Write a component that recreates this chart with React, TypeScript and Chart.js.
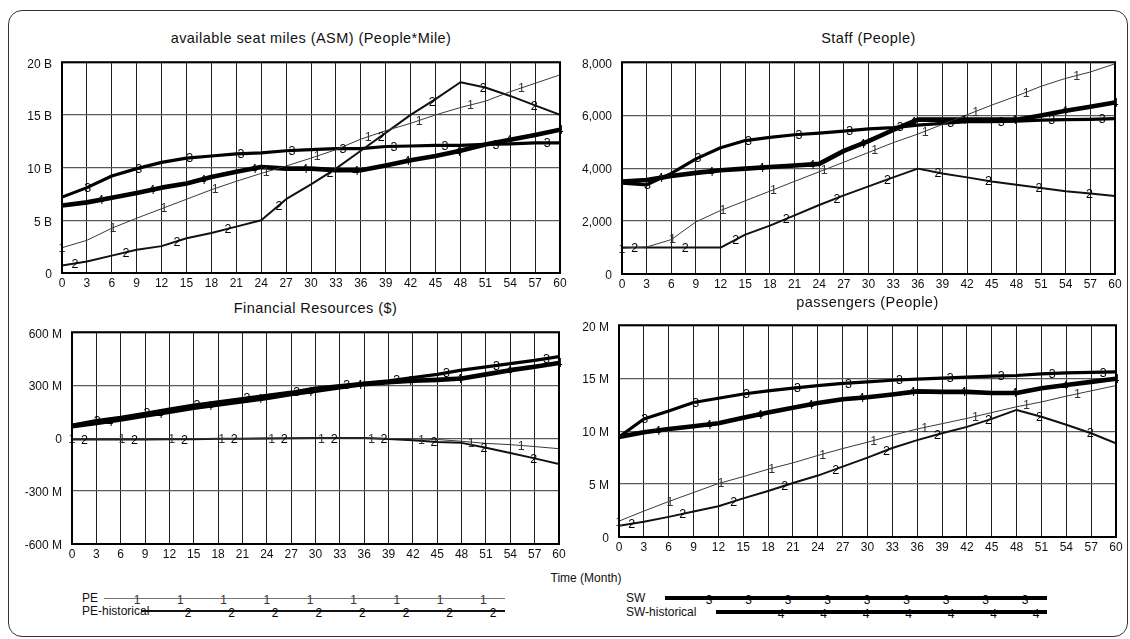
import React, { useEffect, useRef } from "react";
import { Chart, registerables } from "chart.js";

Chart.register(...registerables);

const FONT = '"Liberation Sans", Arial, Helvetica, sans-serif';

// ---------- data ----------
const MONTHS = [0, 3, 6, 9, 12, 15, 18, 21, 24, 27, 30, 33, 36, 39, 42, 45, 48, 51, 54, 57, 60];

const SERIES_NAMES = ["PE", "PE-historical", "SW", "SW-historical"];
const SERIES_DIGITS = ["1", "2", "3", "4"];

// available seat miles (billions of People*Mile)
const ASM_PE = [2.4, 3.1, 4.25, 5.2, 6.1, 7.0, 7.9, 8.7, 9.45, 10.15, 10.9, 11.7, 12.7, 13.5, 14.2, 15.0, 15.7, 16.3, 17.2, 18.0, 18.8];
const ASM_PE_HIST = [0.7, 1.1, 1.65, 2.2, 2.55, 3.3, 3.8, 4.4, 5.0, 7.0, 8.4, 9.9, 11.6, 13.3, 15.0, 16.5, 18.1, 17.6, 16.8, 15.9, 15.0];
const ASM_SW = [7.2, 8.1, 9.2, 9.9, 10.5, 10.9, 11.1, 11.3, 11.4, 11.6, 11.7, 11.8, 11.8, 12.0, 12.05, 12.1, 12.1, 12.2, 12.25, 12.35, 12.35];
const ASM_SW_HIST = [6.4, 6.7, 7.15, 7.6, 8.1, 8.5, 9.1, 9.6, 10.05, 9.9, 9.9, 9.75, 9.75, 10.2, 10.7, 11.1, 11.6, 12.2, 12.65, 13.1, 13.6];
const ASM_Y_TICKS = [0, 5, 10, 15, 20];
const ASM_Y_LABELS = ["0", "5 B", "10 B", "15 B", "20 B"];

// staff (People)
const STAFF_PE = [975, 1020, 1300, 1970, 2400, 2765, 3130, 3500, 3860, 4225, 4590, 4960, 5285, 5650, 6015, 6380, 6720, 7090, 7390, 7630, 7940];
const STAFF_PE_HIST = [1000, 1000, 1000, 1000, 1000, 1485, 1825, 2215, 2605, 2970, 3310, 3650, 3980, 3800, 3650, 3495, 3370, 3250, 3130, 3040, 2950];
const STAFF_SW = [3430, 3370, 3800, 4350, 4770, 5040, 5160, 5260, 5320, 5400, 5480, 5530, 5620, 5690, 5750, 5750, 5770, 5810, 5830, 5840, 5870];
const STAFF_SW_HIST = [3490, 3550, 3700, 3820, 3920, 3980, 4040, 4100, 4160, 4650, 5020, 5440, 5830, 5830, 5830, 5830, 5830, 5990, 6170, 6320, 6480];
const STAFF_Y_TICKS = [0, 2000, 4000, 6000, 8000];
const STAFF_Y_LABELS = ["0", "2,000", "4,000", "6,000", "8,000"];

// financial resources (millions of $)
const FIN_PE = [-5, -5, -5, -5, -5, -4, -3, -2, 0, 0, 0, 0, 0, -2, -4, -8, -18, -30, -37, -48, -60];
const FIN_PE_HIST = [-8, -8, -8, -8, -7, -6, -4, -3, -2, -1, 0, 0, 0, -5, -12, -22, -27, -55, -84, -115, -147];
const FIN_SW = [73, 99, 117, 141, 165, 187, 205, 224, 242, 260, 283, 297, 312, 325, 343, 361, 385, 404, 422, 440, 462];
const FIN_SW_HIST = [68, 86, 105, 128, 150, 172, 191, 209, 228, 250, 268, 288, 306, 316, 325, 330, 338, 361, 385, 404, 426];
const FIN_Y_TICKS = [-600, -300, 0, 300, 600];
const FIN_Y_LABELS = ["-600 M", "-300 M", "0", "300 M", "600 M"];

// passengers (millions of People)
const PAX_PE = [1.5, 2.45, 3.35, 4.2, 5.05, 5.7, 6.4, 7.0, 7.7, 8.35, 8.95, 9.6, 10.2, 10.7, 11.2, 11.75, 12.3, 12.75, 13.3, 13.8, 14.3];
const PAX_PE_HIST = [1.07, 1.45, 1.9, 2.4, 2.9, 3.65, 4.35, 5.1, 5.8, 6.65, 7.5, 8.4, 9.15, 9.8, 10.4, 11.15, 12.0, 11.35, 10.6, 9.8, 8.85];
const PAX_SW = [9.45, 11.15, 11.9, 12.7, 13.1, 13.5, 13.8, 14.05, 14.3, 14.5, 14.65, 14.8, 14.9, 15.0, 15.1, 15.2, 15.25, 15.4, 15.5, 15.55, 15.6];
const PAX_SW_HIST = [9.45, 9.9, 10.2, 10.45, 10.75, 11.25, 11.75, 12.2, 12.65, 13.0, 13.2, 13.45, 13.75, 13.7, 13.7, 13.6, 13.6, 14.05, 14.35, 14.65, 14.95];
const PAX_Y_TICKS = [0, 5, 10, 15, 20];
const PAX_Y_LABELS = ["0", "5 M", "10 M", "15 M", "20 M"];

const X_AXIS_TITLE = "Time (Month)";

// ---------- styles ----------
const LINE_STYLES = [
  { color: "#3a3a3a", width: 1 },
  { color: "#111111", width: 2 },
  { color: "#000000", width: 3.2 },
  { color: "#000000", width: 4.6 },
];

// marker spacing (months) along lines, as Vensim numbers them
const MARKER_FIRST_OFFSET = 1.55;
const MARKER_STEP = 6.15;
const MARKER_COUNT = 10;

type Panel = {
  title: string;
  series: number[][];
  yTicks: number[];
  yLabels: string[];
  canvas: { left: number; top: number; width: number; height: number };
  yAxisWidth: number;
  padRight: number;
  xAxisHeight: number;
  titleY: number;
};

const PANELS: Panel[] = [
  {
    title: "available seat miles (ASM) (People*Mile)",
    series: [ASM_PE, ASM_PE_HIST, ASM_SW, ASM_SW_HIST],
    yTicks: ASM_Y_TICKS,
    yLabels: ASM_Y_LABELS,
    canvas: { left: 0, top: 45, width: 575, height: 250 },
    yAxisWidth: 62,
    padRight: 15,
    xAxisHeight: 22,
    titleY: 38,
  },
  {
    title: "Staff (People)",
    series: [STAFF_PE, STAFF_PE_HIST, STAFF_SW, STAFF_SW_HIST],
    yTicks: STAFF_Y_TICKS,
    yLabels: STAFF_Y_LABELS,
    canvas: { left: 565, top: 45, width: 565, height: 250 },
    yAxisWidth: 57,
    padRight: 15,
    xAxisHeight: 21,
    titleY: 38,
  },
  {
    title: "Financial Resources ($)",
    series: [FIN_PE, FIN_PE_HIST, FIN_SW, FIN_SW_HIST],
    yTicks: FIN_Y_TICKS,
    yLabels: FIN_Y_LABELS,
    canvas: { left: 0, top: 315, width: 575, height: 250 },
    yAxisWidth: 72,
    padRight: 16,
    xAxisHeight: 21,
    titleY: 308,
  },
  {
    title: "passengers (People)",
    series: [PAX_PE, PAX_PE_HIST, PAX_SW, PAX_SW_HIST],
    yTicks: PAX_Y_TICKS,
    yLabels: PAX_Y_LABELS,
    canvas: { left: 565, top: 308, width: 565, height: 250 },
    yAxisWidth: 54,
    padRight: 14,
    xAxisHeight: 21,
    titleY: 302,
  },
];

function interp(data: { x: number; y: number }[], t: number): number {
  for (let i = 0; i < data.length - 1; i++) {
    const a = data[i];
    const b = data[i + 1];
    if (t >= a.x && t <= b.x) {
      const f = (t - a.x) / (b.x - a.x || 1);
      return a.y + (b.y - a.y) * f;
    }
  }
  return data[data.length - 1].y;
}

const vensimPlugin = {
  id: "vensimDecor",
  afterDatasetsDraw(chart: any) {
    const { ctx, chartArea } = chart;
    const xs = chart.scales.x;
    const ys = chart.scales.y;
    ctx.save();
    ctx.font = `12.5px ${FONT}`;
    ctx.textAlign = "center";
    ctx.textBaseline = "middle";
    chart.data.datasets.forEach((ds: any, i: number) => {
      ctx.fillStyle = i === 0 ? "#333" : "#000";
      for (let k = 0; k < MARKER_COUNT; k++) {
        const t = i * MARKER_FIRST_OFFSET + k * MARKER_STEP;
        if (t > 60.01) continue;
        const v = interp(ds.data, t);
        const px = xs.getPixelForValue(t);
        const py = ys.getPixelForValue(v);
        ctx.fillText(SERIES_DIGITS[i], px, py + 1);
      }
    });
    ctx.restore();
    ctx.save();
    ctx.strokeStyle = "#000";
    ctx.lineWidth = 2;
    ctx.strokeRect(
      chartArea.left,
      chartArea.top,
      chartArea.right - chartArea.left,
      chartArea.bottom - chartArea.top
    );
    ctx.restore();
  },
};

function PanelChart({ panel }: { panel: Panel }) {
  const ref = useRef<HTMLCanvasElement>(null);
  useEffect(() => {
    if (!ref.current) return;
    const yMin = panel.yTicks[0];
    const yMax = panel.yTicks[panel.yTicks.length - 1];
    const yStep = panel.yTicks[1] - panel.yTicks[0];
    const chart = new Chart(ref.current, {
      type: "line",
      data: {
        datasets: panel.series.map((vals, i) => ({
          label: SERIES_NAMES[i],
          data: MONTHS.map((m, j) => ({ x: m, y: vals[j] })),
          borderColor: LINE_STYLES[i].color,
          borderWidth: LINE_STYLES[i].width,
          pointRadius: 0,
          tension: 0,
          fill: false,
          borderJoinStyle: "round" as const,
        })),
      },
      options: {
        responsive: false,
        animation: false,
        devicePixelRatio: 1,
        layout: { padding: { left: 0, right: panel.padRight, top: 10, bottom: 0 } },
        plugins: {
          legend: { display: false },
          tooltip: { enabled: false },
          title: { display: false },
        },
        scales: {
          x: {
            type: "linear",
            min: 0,
            max: 60,
            afterFit: (s: any) => {
              s.height = panel.xAxisHeight;
            },
            ticks: {
              stepSize: 3,
              autoSkip: false,
              maxRotation: 0,
              padding: 3,
              color: "#111",
              font: { family: FONT, size: 12 },
            },
            grid: { color: "#1e1e1e", lineWidth: 1, drawTicks: false },
            border: { display: false },
          },
          y: {
            type: "linear",
            min: yMin,
            max: yMax,
            afterFit: (s: any) => {
              s.width = panel.yAxisWidth;
            },
            ticks: {
              stepSize: yStep,
              padding: 10,
              labelOffset: 2,
              color: "#111",
              font: { family: FONT, size: 12 },
              callback: (v: any) => {
                const idx = panel.yTicks.indexOf(Number(v));
                return idx >= 0 ? panel.yLabels[idx] : "";
              },
            },
            grid: { color: "#5a5a5a", lineWidth: 1.2, drawTicks: false },
            border: { display: false },
          },
        },
      },
      plugins: [vensimPlugin],
    });
    return () => chart.destroy();
  }, [panel]);

  const c = panel.canvas;
  const plotCenter = c.left + (panel.yAxisWidth + (c.width - panel.padRight)) / 2;
  return (
    <>
      <div
        style={{
          position: "absolute",
          left: plotCenter - 250,
          width: 500,
          top: panel.titleY - 9,
          height: 18,
          lineHeight: "18px",
          textAlign: "center",
          fontFamily: FONT,
          fontSize: 14.5,
          letterSpacing: 0.45,
          color: "#111",
          whiteSpace: "nowrap",
        }}
      >
        {panel.title}
      </div>
      <canvas
        ref={ref}
        width={c.width}
        height={c.height}
        style={{ position: "absolute", left: c.left, top: c.top, width: c.width, height: c.height }}
      />
    </>
  );
}

type LegendRow = {
  series: number;
  textLeft: number;
  y: number;
  lineLeft: number;
  lineRight: number;
  digitStart: number;
  digitStep: number;
  digitCount: number;
};

const LEGEND_ROWS: LegendRow[] = [
  { series: 0, textLeft: 82, y: 598, lineLeft: 104, lineRight: 505, digitStart: 137, digitStep: 43.3, digitCount: 9 },
  { series: 1, textLeft: 82, y: 611, lineLeft: 141, lineRight: 505, digitStart: 188, digitStep: 43.6, digitCount: 8 },
  { series: 2, textLeft: 626, y: 598, lineLeft: 665, lineRight: 1047, digitStart: 709, digitStep: 39.5, digitCount: 9 },
  { series: 3, textLeft: 626, y: 612, lineLeft: 716, lineRight: 1047, digitStart: 781, digitStep: 42.5, digitCount: 7 },
];

function Legend() {
  return (
    <>
      {LEGEND_ROWS.map((r) => {
        const st = LINE_STYLES[r.series];
        const digits = [];
        for (let k = 0; k < r.digitCount; k++) {
          const x = r.digitStart + k * r.digitStep;
          digits.push(
            <div
              key={k}
              style={{
                position: "absolute",
                left: x - 5,
                width: 10,
                top: r.y - 5,
                height: 14,
                lineHeight: "14px",
                textAlign: "center",
                fontFamily: FONT,
                fontSize: 12,
                color: r.series === 0 ? "#333" : "#000",
              }}
            >
              {SERIES_DIGITS[r.series]}
            </div>
          );
        }
        return (
          <React.Fragment key={r.series}>
            <div
              style={{
                position: "absolute",
                left: r.textLeft,
                top: r.y - 8,
                height: 16,
                lineHeight: "16px",
                fontFamily: FONT,
                fontSize: 12,
                color: "#111",
                whiteSpace: "nowrap",
              }}
            >
              {SERIES_NAMES[r.series]}
            </div>
            <div
              style={{
                position: "absolute",
                left: r.lineLeft,
                width: r.lineRight - r.lineLeft,
                top: r.y - st.width / 2,
                height: st.width,
                background: r.series === 0 ? "#777" : st.color,
              }}
            />
            {digits}
          </React.Fragment>
        );
      })}
    </>
  );
}

export default function App() {
  return (
    <div
      style={{
        position: "absolute",
        left: 0,
        top: 0,
        width: 1130,
        height: 639,
        overflow: "hidden",
        background: "#fff",
      }}
    >
      <div
        style={{
          position: "absolute",
          left: 8,
          top: 10,
          width: 1120,
          height: 627,
          border: "1.5px solid #333",
          borderRadius: 14,
          boxSizing: "border-box",
        }}
      />
      {PANELS.map((p, i) => (
        <PanelChart key={i} panel={p} />
      ))}
      <div
        style={{
          position: "absolute",
          left: 486,
          width: 200,
          top: 570,
          height: 16,
          lineHeight: "16px",
          textAlign: "center",
          fontFamily: FONT,
          fontSize: 12,
          color: "#111",
        }}
      >
        {X_AXIS_TITLE}
      </div>
      <Legend />
    </div>
  );
}
